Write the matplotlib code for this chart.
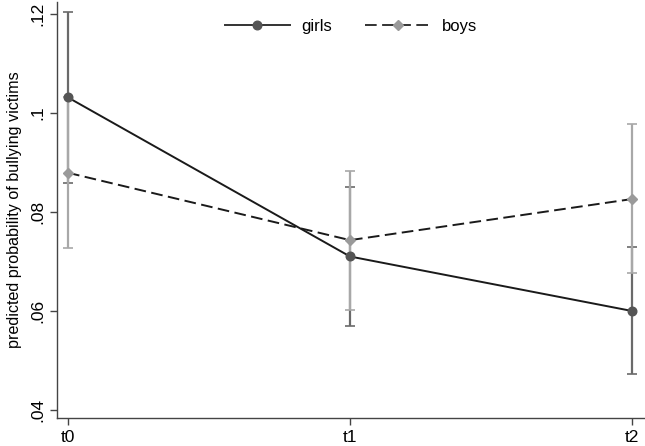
import numpy as np
import matplotlib
matplotlib.use("Agg")
import matplotlib.pyplot as plt

plt.rcParams["font.family"] = ["Liberation Sans", "DejaVu Sans"]

# donnees
waves = ["t0", "t1", "t2"]
girls = [0.1031, 0.0710, 0.0600]
girls_lo = [0.0859, 0.0570, 0.0472]
girls_hi = [0.1203, 0.0850, 0.0730]
boys = [0.0879, 0.0743, 0.0826]
boys_lo = [0.0727, 0.0603, 0.0676]
boys_hi = [0.1031, 0.0883, 0.0978]
yticks = [0.04, 0.06, 0.08, 0.10, 0.12]
ytick_labels = [".04", ".06", ".08", ".1", ".12"]

x = np.arange(len(waves))

fig = plt.figure(figsize=(6.45, 4.46), dpi=100)
ax = fig.add_axes([0.0884, 0.0628, 0.9116, 0.933])

# intervalles de confiance
g_err = [np.array(girls) - np.array(girls_lo), np.array(girls_hi) - np.array(girls)]
b_err = [np.array(boys) - np.array(boys_lo), np.array(boys_hi) - np.array(boys)]
ax.errorbar(x, girls, yerr=g_err, fmt="none", ecolor="#6a6a6a", elinewidth=1.6,
            capsize=3.8, capthick=1.2, zorder=2)
ax.errorbar(x, boys, yerr=b_err, fmt="none", ecolor="#a8a8a8", elinewidth=1.6,
            capsize=3.8, capthick=1.2, zorder=2.5)

# courbes
dash = (0, (6, 2.8))
ax.plot(x, girls, color="#1a1a1a", lw=1.4, zorder=3)
ax.plot(x, boys, color="#1a1a1a", lw=1.4, ls=dash, zorder=3)
ax.plot(x, girls, ls="none", marker="o", ms=6.2, color="#555555", zorder=4)
ax.plot(x, boys, ls="none", marker="D", ms=5.6, color="#9a9a9a", zorder=4)

# legende (proxies)
h_g, = ax.plot([], [], color="#333333", lw=1.4, marker="o", ms=6.2,
               mfc="#555555", mec="#555555")
h_b, = ax.plot([], [], color="#333333", lw=1.4, ls=dash, marker="D",
               ms=5.6, mfc="#9a9a9a", mec="#9a9a9a")
ax.legend([h_g, h_b], ["girls", "boys"], loc="upper center", ncol=2,
          frameon=False, fontsize=12, bbox_to_anchor=(0.5, 0.995),
          handlelength=3.9, columnspacing=2.0, handletextpad=0.7)

ax.set_xlim(-0.039, 2.046)
ax.set_ylim(0.0384, 0.1224)
ax.set_xticks(x)
ax.set_xticklabels(waves, fontsize=12.5)
ax.set_yticks(yticks)
ax.set_yticklabels(ytick_labels, fontsize=12.5, rotation=90, va="center")
ax.set_ylabel("predicted probability of bullying victims", fontsize=11.6,
              labelpad=6)

for s in ["top", "right"]:
    ax.spines[s].set_visible(False)
for s in ["left", "bottom"]:
    ax.spines[s].set_color("#444444")
    ax.spines[s].set_linewidth(1.0)
ax.tick_params(direction="out", length=5, color="#444444", width=1.0)

fig.savefig("out.png", dpi=100)
